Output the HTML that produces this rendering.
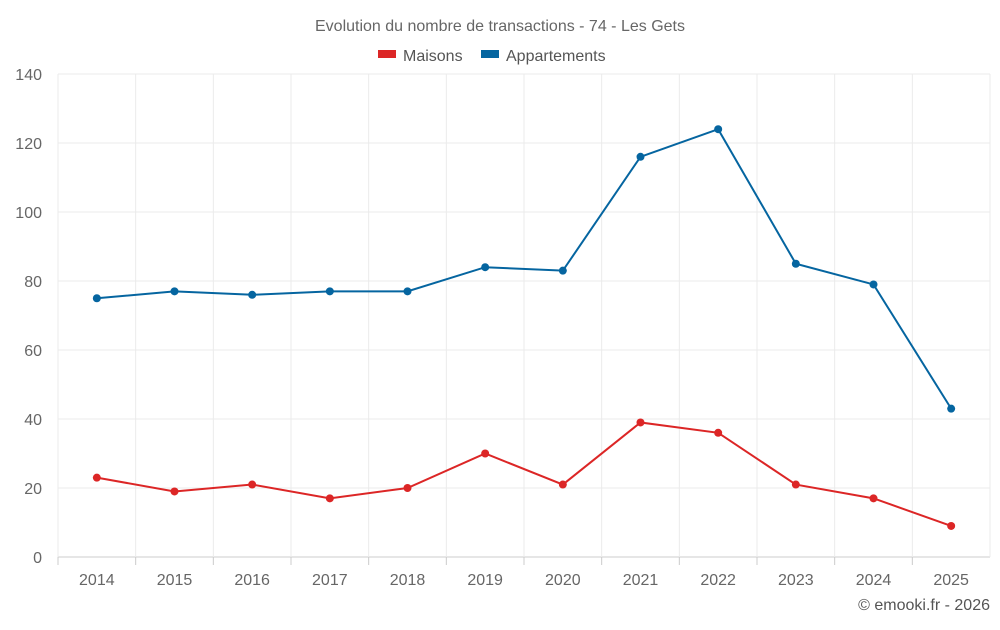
<!DOCTYPE html>
<html><head><meta charset="utf-8"><style>
body{margin:0;background:#fff;font-family:"Liberation Sans",sans-serif;}
</style></head><body>
<svg id="chart" width="1000" height="625" xmlns="http://www.w3.org/2000/svg">
<text x="500" y="31" text-anchor="middle" font-size="16" fill="#666">Evolution du nombre de transactions - 74 - Les Gets</text>
<g>
<g><rect x="378" y="50" width="18" height="8" fill="#dc2626"/><text x="403" y="61" font-size="16" fill="#555">Maisons</text></g>
<g><rect x="481" y="50" width="18" height="8" fill="#0565a0"/><text x="506" y="61" font-size="16" fill="#555">Appartements</text></g>
</g>
<g id="grid"></g><g id="axes"></g><g id="series"></g>
<text x="990" y="610" text-anchor="end" font-size="16" fill="#555">© emooki.fr - 2026</text>
</svg>
<script>
const years=["2014","2015","2016","2017","2018","2019","2020","2021","2022","2023","2024","2025"];
const maisons=[23,19,21,17,20,30,21,39,36,21,17,9];
const appartements=[75,77,76,77,77,84,83,116,124,85,79,43];
const yTicks=[0,20,40,60,80,100,120,140];
const L=58,R=990,T=74,B=557,YMAX=140;
const bw=(R-L)/years.length;
const x=i=>L+bw*(i+0.5);
const y=v=>B-(v/YMAX)*(B-T);
const NS="http://www.w3.org/2000/svg";
function mk(tag,attrs,parent){const e=document.createElementNS(NS,tag);for(const k in attrs)e.setAttribute(k,attrs[k]);parent.appendChild(e);return e;}
const grid=document.getElementById('grid'),axes=document.getElementById('axes'),series=document.getElementById('series');
yTicks.forEach(t=>{
  const l=mk('line',{x1:L,x2:R,y1:y(t),y2:y(t),stroke:t===0?'#ccc':'#ebebeb','stroke-width':1},grid);
  
  
  const tx=mk('text',{x:L-16,y:y(t)+6,'text-anchor':'end','font-size':16,fill:'#666'},axes);
  tx.textContent=t;
  
  
});
for(let i=0;i<=years.length;i++){
  const l=mk('line',{x1:L+bw*i,x2:L+bw*i,y1:T,y2:B,stroke:'#ebebeb','stroke-width':1},grid);
  
  
}
years.forEach((yr,i)=>{
  const tk=mk('line',{x1:L+bw*i,x2:L+bw*i,y1:B,y2:B+8,stroke:'#ccc'},axes);
  
  
  const tx=mk('text',{x:x(i),y:585,'text-anchor':'middle','font-size':16,fill:'#666'},axes);
  tx.textContent=yr;
  
  
});
function draw(vals,color,name){
  const p=mk('polyline',{points:vals.map((v,i)=>x(i)+','+y(v)).join(' '),fill:'none',stroke:color,'stroke-width':2},series);
  
  
  vals.forEach((v,i)=>{
    const c=mk('circle',{cx:x(i),cy:y(v),r:4,fill:color},series);
    
    
  });
}
draw(appartements,'#0565a0','appartements');
draw(maisons,'#dc2626','maisons');
</script>
</body></html>
